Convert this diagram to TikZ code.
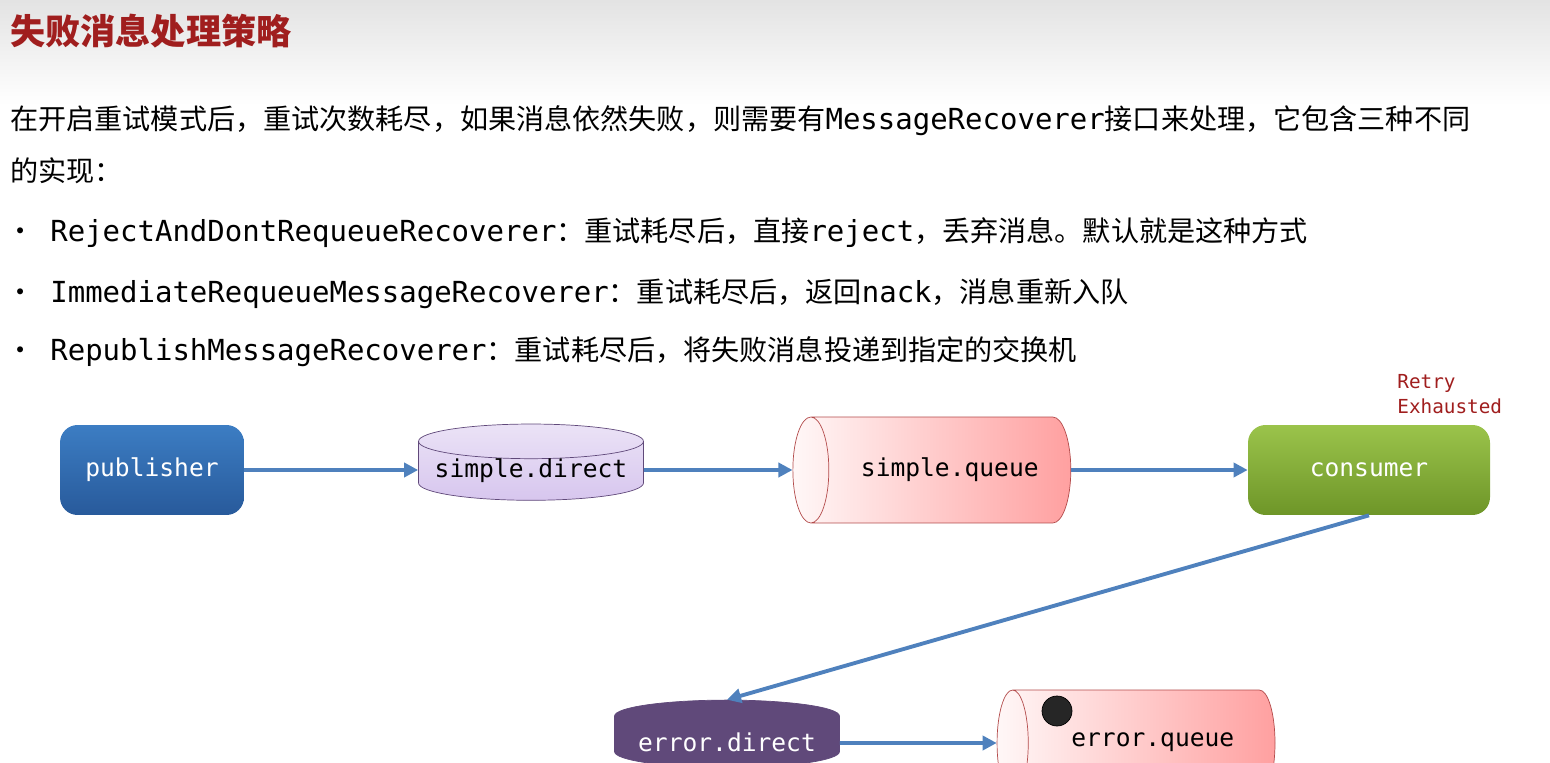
\documentclass[tikz,border=0pt]{standalone}
\usepackage{fontspec}
\setmainfont{Noto Sans CJK SC}
\setmonofont{DejaVu Sans Mono}
\usetikzlibrary{shapes.geometric,arrows.meta}
\definecolor{titlered}{RGB}{160,30,30}
\definecolor{flowblue}{RGB}{79,129,189}
\definecolor{dirfill}{RGB}{215,198,238}
\definecolor{errdir}{RGB}{96,73,122}
\definecolor{qpink}{RGB}{255,160,160}
\definecolor{pubtop}{RGB}{60,125,195}
\definecolor{pubbot}{RGB}{40,90,155}
\definecolor{contop}{RGB}{155,195,75}
\definecolor{conbot}{RGB}{110,150,40}

\begin{document}
\begin{tikzpicture}[x=0.02cm,y=-0.02cm,
    flow/.style={-{Triangle[length=8pt,width=8pt]},flowblue,line width=2.2pt},
    box/.style={rounded corners=10pt,minimum width=3.68cm,minimum height=1.8cm,
      text=white,font=\ttfamily\fontsize{14}{16}\selectfont,inner sep=0pt},
    exchange/.style={cylinder,shape border rotate=90,aspect=0.18,draw=errdir,
      minimum width=4.5cm,minimum height=1.35cm,inner sep=0pt,
      font=\ttfamily\fontsize{14}{16}\selectfont},
    queue/.style={cylinder,shape border rotate=180,aspect=1.5,draw=titlered!80,
      minimum width=2.12cm,minimum height=5.56cm,inner sep=0pt,
      left color=red!3,right color=qpink,
      font=\ttfamily\fontsize{14}{16}\selectfont},
    body/.style={anchor=base west,inner sep=0pt,font=\fontsize{16}{18}\selectfont}]
    \useasboundingbox (0,0) rectangle (1550,763);
    \clip (0,0) rectangle (1550,763);
    % title bar
    \shade[top color=gray!22,bottom color=white] (0,0) rectangle (1550,105);
    \node[anchor=base west,inner sep=0pt,text=titlered,font=\bfseries\fontsize{20}{22}\selectfont] (title) at (10,45) {失败消息处理策略};
    % text
    \node[body] (p1) at (10,130) {在开启重试模式后，重试次数耗尽，如果消息依然失败，则需要有{\ttfamily\fontsize{16.5}{18}\selectfont MessageRecoverer}接口来处理，它包含三种不同};
    \node[body] (p2) at (10,182) {的实现：};
    \foreach \y/\name/\txt in {242/RejectAndDontRequeueRecoverer/重试耗尽后，直接{\ttfamily\fontsize{16.5}{18}\selectfont reject}，丢弃消息。默认就是这种方式,
        302/ImmediateRequeueMessageRecoverer/重试耗尽后，返回{\ttfamily\fontsize{16.5}{18}\selectfont nack}，消息重新入队,
        360/RepublishMessageRecoverer/重试耗尽后，将失败消息投递到指定的交换机}{
      \node[body] at (6,\y) {•};
      \node[body] at (50,\y) {{\ttfamily\fontsize{16.5}{18}\selectfont\name}：\txt};
    }
    % nodes
    \node[box,top color=pubtop,bottom color=pubbot] (publisher) at (152,470) {publisher};
    \node[exchange,top color=dirfill!50,bottom color=dirfill] (direct) at (531,471) {\raisebox{-8pt}{simple.direct}};
    \node[queue] (squeue) at (941,470) {\hspace*{10pt}simple.queue};
    \node[box,minimum width=4.84cm,top color=contop,bottom color=conbot] (consumer) at (1369,470) {consumer};
    \node[anchor=north west,inner sep=0pt,align=left,text=titlered,font=\ttfamily\fontsize{11}{14}\selectfont] (retry) at (1397,374) {Retry\\Exhausted};
    \node[exchange,fill=errdir,text=white] (edirect) at (727,742) {\raisebox{-4pt}{error.direct}};
    \node[queue] (equeue) at (1144,743) {\hspace*{10pt}\raisebox{4pt}{error.queue}};
    \fill[gray!30!black,draw=black] (1057,711) circle (15);
    % connectors
    \draw[flow] (publisher) -- (direct.west |- publisher);
    \draw[flow] (direct.east |- publisher) -- (squeue);
    \draw[flow] (squeue) -- (consumer);
    \draw[flow] (consumer.south) -- (edirect.north);
    \draw[flow] (edirect.east |- 0,743) -- (equeue);
\end{tikzpicture}
\end{document}
